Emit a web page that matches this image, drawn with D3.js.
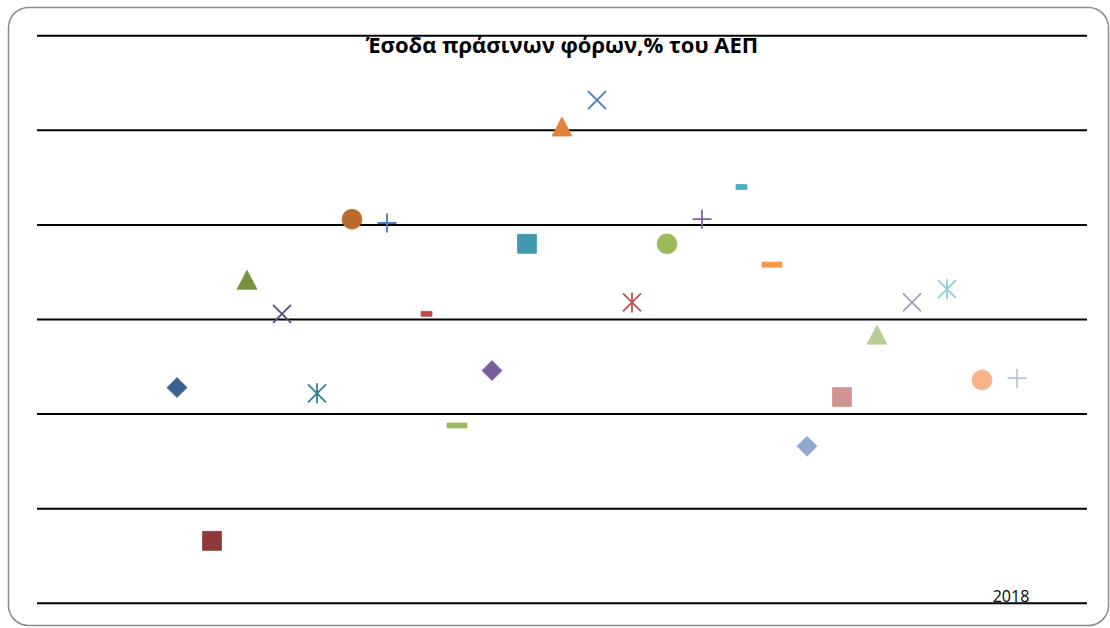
<!DOCTYPE html>
<html>
<head>
<meta charset="utf-8">
<script src="https://cdn.jsdelivr.net/npm/d3@7"></script>
<style>
  body { margin: 0; background: #fff; }
  svg { display: block; }
</style>
</head>
<body>
<div class="chart"></div>
<script>
var width = 1110,
    height = 628;

// data: one point per series, x is the series position on the axis
var title = "Έσοδα πράσινων φόρων,% του ΑΕΠ";
var yearLabel = "2018";
var seriesX = [4, 5, 6, 7, 8, 9, 10, 11, 12, 13, 14, 15, 16, 17, 18, 19, 20, 21, 22, 23, 24, 25, 26, 27, 28];
var values = [2.14, 1.33, 2.71, 2.53, 2.11, 3.03, 3.01, 2.53, 1.94, 2.23, 2.90, 3.52, 3.66,
              2.59, 2.90, 3.03, 3.20, 2.79, 1.83, 2.09, 2.42, 2.59, 2.66, 2.18, 2.19];
var yTicks = [1, 1.5, 2, 2.5, 3, 3.5, 4];

// marker style for each series (Excel default cycle)
var shapes = ["diamond", "square", "triangle", "x", "star", "circle", "plus", "dash", "longdash",
              "diamond", "square", "triangle", "x", "star", "circle", "plus", "dash", "longdash",
              "diamond", "square", "triangle", "x", "star", "circle", "plus"];
var colors = ["#3b6190", "#8e3a3a", "#77923c", "#5f4a7d", "#2f8599", "#b96c2e", "#4a7cba", "#be4b48", "#9bbb59",
              "#7a5e9c", "#4198af", "#e0823d", "#4a7ebb", "#c0504d", "#9bbb59", "#7f63a1", "#4bacc6", "#f79646",
              "#93a8cf", "#d09392", "#b9cd96", "#a99bbd", "#93cddd", "#f8b38a", "#b7c5e0"];

var svg = d3.select(".chart").append("svg")
    .attr("width", width)
    .attr("height", height);

// chart area border
svg.append("rect")
    .attr("x", 8.5).attr("y", 7.5)
    .attr("width", 1100).attr("height", 618)
    .attr("rx", 20).attr("ry", 20)
    .attr("fill", "#fff")
    .attr("stroke", "#8c8c8c")
    .attr("stroke-width", 1.5);

var x = d3.scaleLinear().domain([0, 30]).range([37, 1087]);
var y = d3.scaleLinear().domain([1, 4]).range([603.3, 35.7]);

// gridlines
svg.append("g").selectAll("line")
    .data(yTicks)
    .enter().append("line")
    .attr("x1", x(0)).attr("x2", x(30))
    .attr("y1", function(d) { return y(d); })
    .attr("y2", function(d) { return y(d); })
    .attr("stroke", "#000")
    .attr("stroke-width", 2);

// title
svg.append("text")
    .attr("x", 562)
    .attr("y", 53)
    .attr("text-anchor", "middle")
    .style("font-family", "'Open Sans', sans-serif")
    .style("font-weight", "bold")
    .style("font-size", "22px")
    .attr("fill", "#000")
    .text(title);

svg.append("text")
    .attr("x", 1011)
    .attr("y", 602)
    .attr("text-anchor", "middle")
    .style("font-family", "'Open Sans', sans-serif")
    .style("font-size", "16px")
    .attr("fill", "#000")
    .text(yearLabel);

// marker path builders, r = half size
function markerPath(shape, r) {
  var p = d3.path();
  if (shape == "diamond") {
    p.moveTo(0, -r); p.lineTo(r, 0); p.lineTo(0, r); p.lineTo(-r, 0); p.closePath();
  } else if (shape == "square") {
    p.rect(-r * 0.95, -r * 0.95, r * 1.9, r * 1.9);
  } else if (shape == "triangle") {
    p.moveTo(0, -r * 0.95); p.lineTo(r, r * 0.95); p.lineTo(-r, r * 0.95); p.closePath();
  } else if (shape == "circle") {
    p.arc(0, 0, r, 0, 2 * Math.PI);
  } else if (shape == "x") {
    var a = r * 0.9;
    p.moveTo(-a, -a); p.lineTo(a, a); p.moveTo(a, -a); p.lineTo(-a, a);
  } else if (shape == "plus") {
    p.moveTo(-r * 0.95, 0); p.lineTo(r * 0.95, 0); p.moveTo(0, -r * 0.95); p.lineTo(0, r * 0.95);
  } else if (shape == "star") {
    var b = r * 0.9;
    p.moveTo(-b, -b); p.lineTo(b, b); p.moveTo(b, -b); p.lineTo(-b, b);
    p.moveTo(0, -r); p.lineTo(0, r);
  } else if (shape == "dash") {
    // Excel draws the short dash right of the point centre
    p.rect(-1, -2.5, 11, 5);
  } else if (shape == "longdash") {
    p.rect(-10, -2.5, 20, 5);
  }
  return p.toString();
}

var filled = { diamond: true, square: true, triangle: true, circle: true, dash: true, longdash: true };

var points = values.map(function(v, i) {
  return { x: seriesX[i], v: v, shape: shapes[i], color: colors[i] };
});

svg.append("g").selectAll("path")
    .data(points)
    .enter().append("path")
    .attr("transform", function(d) { return "translate(" + x(d.x) + "," + y(d.v) + ")"; })
    .attr("d", function(d) { return markerPath(d.shape, 10); })
    .attr("fill", function(d) { return filled[d.shape] ? d.color : "none"; })
    .attr("stroke", function(d) { return d.color; })
    .attr("stroke-width", function(d) { return filled[d.shape] ? 0.75 : 1.8; })
    .attr("stroke-linejoin", "round");
</script>
</body>
</html>
